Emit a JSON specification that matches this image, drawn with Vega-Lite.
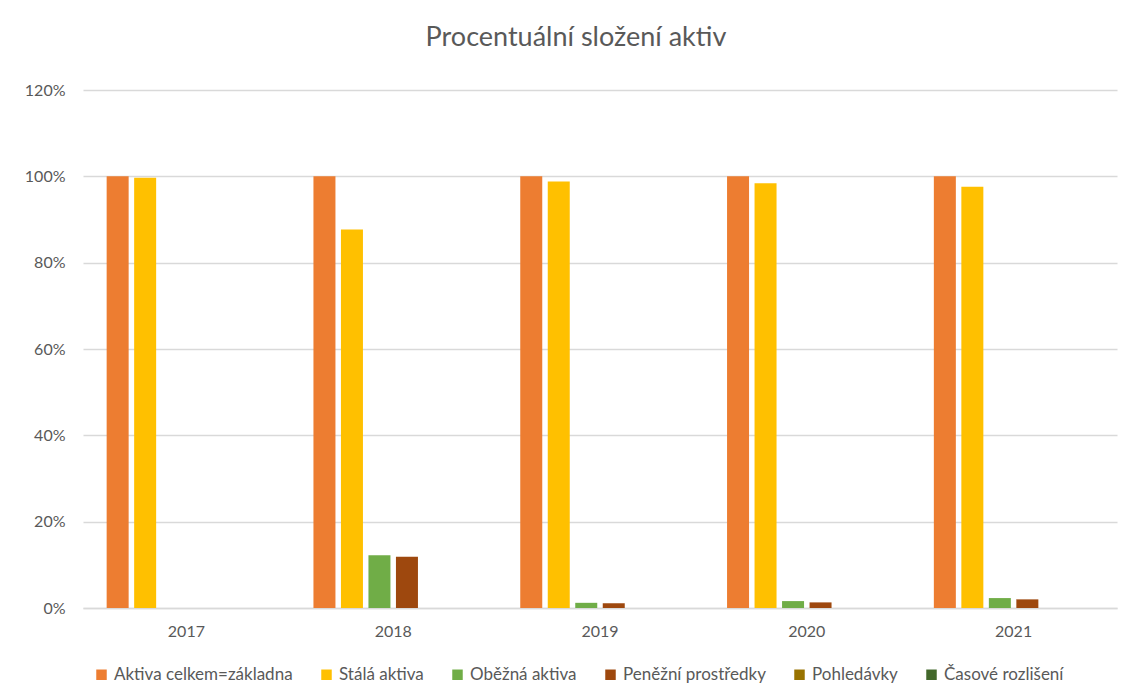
{
  "$schema": "https://vega.github.io/schema/vega-lite/v6.json",
  "width": 1034,
  "height": 518,
  "autosize": "none",
  "padding": {"left": 83, "top": 90, "right": 12, "bottom": 91},
  "background": "white",
  "title": {
    "text": "Procentuální složení aktiv",
    "font": "Lato",
    "fontSize": 27,
    "fontWeight": "normal",
    "color": "#595959",
    "offset": 30,
    "dx": -24
  },
  "data": {
    "values": [
      {"rok": "2017", "polozka": "Aktiva celkem=základna", "hodnota": 1.0},
      {"rok": "2017", "polozka": "Stálá aktiva", "hodnota": 0.997},
      {"rok": "2017", "polozka": "Oběžná aktiva", "hodnota": 0.0},
      {"rok": "2017", "polozka": "Peněžní prostředky", "hodnota": 0.0},
      {"rok": "2017", "polozka": "Pohledávky", "hodnota": 0.0},
      {"rok": "2017", "polozka": "Časové rozlišení", "hodnota": 0.0},
      {"rok": "2018", "polozka": "Aktiva celkem=základna", "hodnota": 1.0},
      {"rok": "2018", "polozka": "Stálá aktiva", "hodnota": 0.877},
      {"rok": "2018", "polozka": "Oběžná aktiva", "hodnota": 0.122},
      {"rok": "2018", "polozka": "Peněžní prostředky", "hodnota": 0.119},
      {"rok": "2018", "polozka": "Pohledávky", "hodnota": 0.0},
      {"rok": "2018", "polozka": "Časové rozlišení", "hodnota": 0.0},
      {"rok": "2019", "polozka": "Aktiva celkem=základna", "hodnota": 1.0},
      {"rok": "2019", "polozka": "Stálá aktiva", "hodnota": 0.988},
      {"rok": "2019", "polozka": "Oběžná aktiva", "hodnota": 0.012},
      {"rok": "2019", "polozka": "Peněžní prostředky", "hodnota": 0.011},
      {"rok": "2019", "polozka": "Pohledávky", "hodnota": 0.0},
      {"rok": "2019", "polozka": "Časové rozlišení", "hodnota": 0.0},
      {"rok": "2020", "polozka": "Aktiva celkem=základna", "hodnota": 1.0},
      {"rok": "2020", "polozka": "Stálá aktiva", "hodnota": 0.984},
      {"rok": "2020", "polozka": "Oběžná aktiva", "hodnota": 0.016},
      {"rok": "2020", "polozka": "Peněžní prostředky", "hodnota": 0.013},
      {"rok": "2020", "polozka": "Pohledávky", "hodnota": 0.0},
      {"rok": "2020", "polozka": "Časové rozlišení", "hodnota": 0.0},
      {"rok": "2021", "polozka": "Aktiva celkem=základna", "hodnota": 1.0},
      {"rok": "2021", "polozka": "Stálá aktiva", "hodnota": 0.976},
      {"rok": "2021", "polozka": "Oběžná aktiva", "hodnota": 0.023},
      {"rok": "2021", "polozka": "Peněžní prostředky", "hodnota": 0.020},
      {"rok": "2021", "polozka": "Pohledávky", "hodnota": 0.0},
      {"rok": "2021", "polozka": "Časové rozlišení", "hodnota": 0.0}
    ]
  },
  "mark": {"type": "bar"},
  "encoding": {
    "x": {
      "field": "rok",
      "type": "nominal",
      "scale": {"paddingInner": 0, "paddingOuter": 0},
      "axis": {
        "title": null,
        "labelAngle": 0,
        "labelFont": "Lato",
        "labelFontSize": 16,
        "labelColor": "#595959",
        "labelPadding": 15,
        "ticks": false,
        "domainColor": "#d9d9d9",
        "domainWidth": 1.5
      }
    },
    "xOffset": {
      "field": "polozka",
      "type": "nominal",
      "sort": ["Aktiva celkem=základna", "Stálá aktiva", "Oběžná aktiva", "Peněžní prostředky", "Pohledávky", "Časové rozlišení"],
      "scale": {"paddingInner": 0.2, "paddingOuter": 0.86}
    },
    "y": {
      "field": "hodnota",
      "type": "quantitative",
      "scale": {"domain": [0, 1.2], "nice": false},
      "axis": {
        "title": null,
        "values": [0, 0.2, 0.4, 0.6, 0.8, 1.0, 1.2],
        "format": ".0%",
        "labelFont": "Lato",
        "labelFontSize": 16,
        "labelColor": "#595959",
        "labelPadding": 18,
        "ticks": false,
        "domain": false,
        "gridColor": "#d9d9d9",
        "gridWidth": 1.5
      }
    },
    "color": {
      "field": "polozka",
      "type": "nominal",
      "scale": {
        "domain": ["Aktiva celkem=základna", "Stálá aktiva", "Oběžná aktiva", "Peněžní prostředky", "Pohledávky", "Časové rozlišení"],
        "range": ["#ED7D31", "#FFC000", "#70AD47", "#9E480E", "#997300", "#43682B"]
      },
      "legend": {
        "title": null,
        "orient": "none",
        "direction": "horizontal",
        "legendX": 10,
        "legendY": 576,
        "symbolType": "square",
        "symbolSize": 110,
        "symbolStrokeWidth": 0,
        "labelFont": "Lato",
        "labelFontSize": 17,
        "labelColor": "#595959",
        "labelLimit": 400,
        "columnPadding": 25,
        "labelOffset": 4
      }
    }
  },
  "config": {
    "view": {"stroke": null}
  }
}
